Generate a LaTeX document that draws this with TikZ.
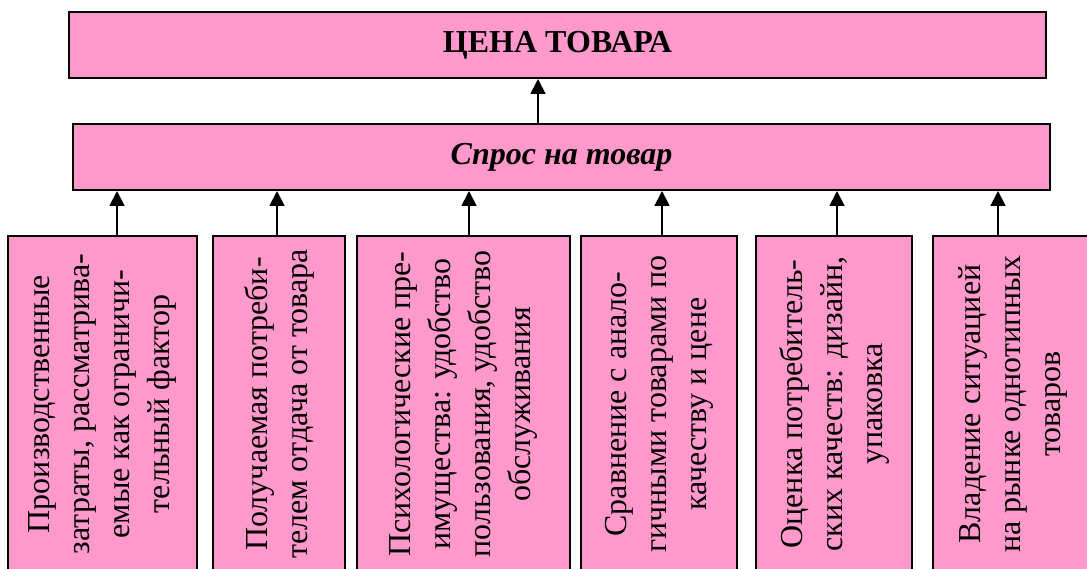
\documentclass[tikz,border=0pt]{standalone}
\usepackage{fontspec}
\setmainfont{Liberation Serif}
\usetikzlibrary{arrows.meta}
\definecolor{rosefill}{HTML}{FF99CC}
\begin{document}
\begin{tikzpicture}[x=1pt,y=1pt,
  box/.style={draw=black, line width=2pt, fill=rosefill, inner sep=0pt},
  arr/.style={line width=1.8pt, -{Triangle[width=15pt,length=15pt]}},
  vtext/.style={font=\fontsize{32}{40}\selectfont}
]
\useasboundingbox (0,0) rectangle (1087,-569);
\clip (0,0) rectangle (1087,-569);
% top boxes
\node[box, minimum width=977pt, minimum height=66pt, font=\fontsize{32}{38}\selectfont\bfseries] (price) at (557.5,-45) {ЦЕНА ТОВАРА};
\node[box, minimum width=977pt, minimum height=66pt, font=\fontsize{32}{38}\selectfont\bfseries\itshape] (spros) at (561.5,-157) {Спрос на товар};
% bottom boxes
\newcommand{\vt}[1]{\rotatebox{90}{\parbox{320pt}{\centering\fontsize{32}{40}\selectfont #1}}}
\node[box, minimum width=189pt, minimum height=336pt] (b1) at (102.5,-404)
  {\vt{Производственные\\ затраты, рассматрива-\\ емые как ограничи-\\ тельный фактор}};
\node[box, minimum width=132pt, minimum height=336pt] (b2) at (279,-404)
  {\vt{Получаемая потреби-\\ телем отдача от товара}};
\node[box, minimum width=213pt, minimum height=336pt] (b3) at (463.5,-404)
  {\vt{Психологические пре-\\ имущества: удобство\\ пользования, удобство\\ обслуживания}};
\node[box, minimum width=156pt, minimum height=336pt] (b4) at (659,-404)
  {\vt{Сравнение с анало-\\ гичными товарами по\\ качеству и цене}};
\node[box, minimum width=156pt, minimum height=336pt] (b5) at (834,-404)
  {\vt{Оценка потребитель-\\ ских качеств: дизайн,\\ упаковка}};
\node[box, minimum width=160pt, minimum height=336pt] (b6) at (1013,-404)
  {\vt{Владение ситуацией\\ на рынке однотипных\\ товаров}};
% arrows
\draw[arr] ([xshift=-23.5pt]spros.north) -- ([xshift=-23.5pt]spros.north |- price.south);
\draw[arr] ([xshift=14.5pt]b1.north) -- ([xshift=14.5pt]b1.north |- spros.south);
\draw[arr] ([xshift=-2pt]b2.north) -- ([xshift=-2pt]b2.north |- spros.south);
\draw[arr] ([xshift=5.5pt]b3.north) -- ([xshift=5.5pt]b3.north |- spros.south);
\draw[arr] ([xshift=3pt]b4.north) -- ([xshift=3pt]b4.north |- spros.south);
\draw[arr] ([xshift=3pt]b5.north) -- ([xshift=3pt]b5.north |- spros.south);
\draw[arr] ([xshift=-15pt]b6.north) -- ([xshift=-15pt]b6.north |- spros.south);
\end{tikzpicture}
\end{document}
